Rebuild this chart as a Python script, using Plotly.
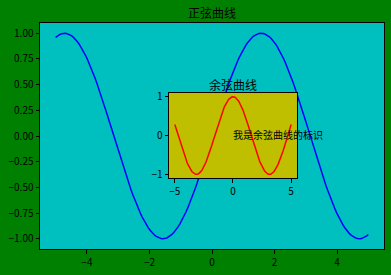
import numpy as np
import plotly.graph_objects as go

x = np.linspace(-5, 5, 200)
y_sin = np.sin(x)
y_cos = np.cos(x)

main_title = "正弦曲线"
inset_title = "余弦曲线"
note_text = "我是余弦曲线的标识"
main_xticks = [-4, -2, 0, 2, 4]
main_yticks = [-1.0, -0.75, -0.5, -0.25, 0.0, 0.25, 0.5, 0.75, 1.0]
inset_xticks = [-5, 0, 5]
inset_yticks = [-1, 0, 1]
x_range = [-5.5, 5.5]
y_range = [-1.1, 1.1]

def lab(v, fmt):
    s = format(v, fmt)
    return s.replace("-", "−")

FONT = "Noto Sans CJK SC"
fig = go.Figure()
fig.add_trace(go.Scatter(x=x, y=y_sin, mode="lines", line=dict(color="#0000ff", width=1.5),
                         xaxis="x", yaxis="y", showlegend=False))
fig.add_trace(go.Scatter(x=x, y=y_cos, mode="lines", line=dict(color="#ff0000", width=1.5),
                         xaxis="x2", yaxis="y2", showlegend=False))

ax_common = dict(showline=True, linecolor="black", linewidth=1, mirror=True,
                 ticks="outside", ticklen=3.5, tickcolor="black", tickwidth=1,
                 showgrid=False, zeroline=False, tickfont=dict(size=10, color="black", family=FONT))

fig.update_layout(
    width=391, height=275,
    margin=dict(l=40, r=6, t=23, b=22),
    paper_bgcolor="#008000",
    plot_bgcolor="#00bfbf",
    font=dict(family=FONT, color="black"),
    xaxis=dict(domain=[0, 1], range=x_range, tickvals=main_xticks,
               ticktext=[lab(v, "d") for v in main_xticks], **ax_common),
    yaxis=dict(domain=[0, 1], range=y_range, tickvals=main_yticks,
               ticktext=[lab(v, ".2f") for v in main_yticks], **ax_common),
    xaxis2=dict(domain=[0.375, 0.747], range=x_range, anchor="y2", tickvals=inset_xticks,
                ticktext=[lab(v, "d") for v in inset_xticks], **ax_common),
    yaxis2=dict(domain=[0.313, 0.691], range=y_range, anchor="x2", tickvals=inset_yticks,
                ticktext=[lab(v, "d") for v in inset_yticks], **ax_common),
    shapes=[dict(type="rect", xref="x2", yref="y2", x0=x_range[0], x1=x_range[1],
                 y0=y_range[0], y1=y_range[1],
                 fillcolor="#bfbf00", line=dict(width=0), layer="below")],
    annotations=[
        dict(text=main_title, xref="paper", yref="paper", x=0.5, y=1, yshift=0,
             xanchor="center", yanchor="bottom", showarrow=False, font=dict(size=12, color="black")),
        dict(text=inset_title, xref="x2 domain", yref="y2 domain", x=0.5, y=1, yshift=-2,
             xanchor="center", yanchor="bottom", showarrow=False, font=dict(size=12, color="black")),
        dict(text=note_text, xref="x2", yref="y2", x=0, y=0, xanchor="left", yanchor="middle",
             yshift=1, xshift=-2, showarrow=False, font=dict(size=10, color="black")),
    ],
)
fig.write_html("out.html")
